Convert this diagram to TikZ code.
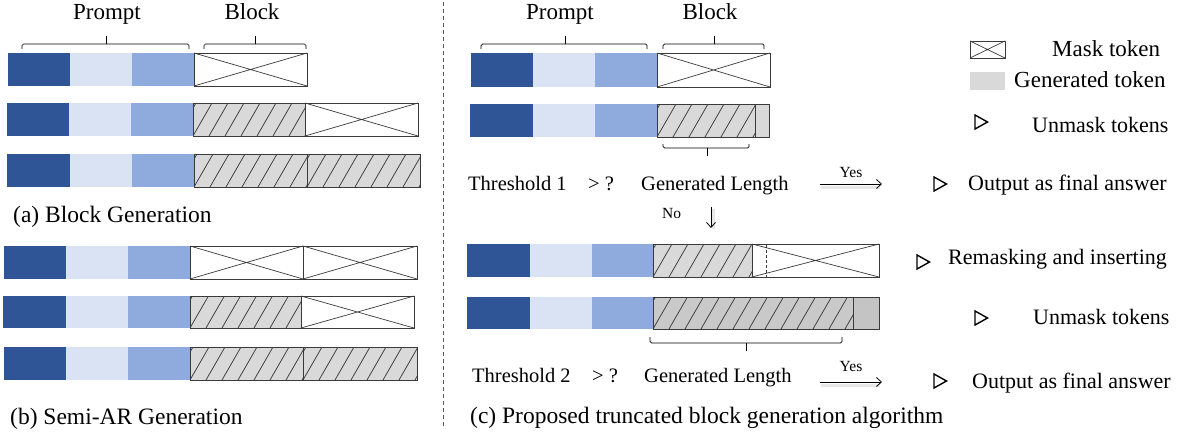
\documentclass[tikz,border=0pt]{standalone}
\usepackage{fontspec}
\setmainfont{Liberation Serif}
\usetikzlibrary{arrows.meta}
\definecolor{dkb}{HTML}{2F5597}
\definecolor{ltb}{HTML}{DAE3F3}
\definecolor{mdb}{HTML}{8FAADC}
\definecolor{gtok}{HTML}{D9D9D9}
\definecolor{gdark}{HTML}{C9C9C9}
\definecolor{gend}{HTML}{C4C4C4}
\definecolor{edgec}{HTML}{3A3A3A}
\definecolor{sepc}{HTML}{595959}
\newcommand\prow[6]{%
  \fill[dkb] (#1,#5) rectangle (#2,#6);
  \fill[ltb] (#2,#5) rectangle (#3,#6);
  \fill[mdb] (#3,#5) rectangle (#4,#6);}
\newcommand\gbx[5]{%
  \fill[#5] (#1,#2) rectangle (#3,#4);
  \begin{scope}
    \clip (#1,#2) rectangle (#3,#4);
    \foreach \k in {-2,...,14}{\draw[hatchl] (#1+\k*16,#4) -- ++(19,-33);}
  \end{scope}
  \draw[boxedge] (#1,#2) rectangle (#3,#4);}
\newcommand\mskbx[4]{%
  \draw[boxedge,fill=white] (#1,#2) rectangle (#3,#4);
  \draw[crossl] (#1,#2) -- (#3,#4) (#1,#4) -- (#3,#2);}
\newcommand\brc[6]{%
  \draw[bracel,rounded corners=1.5pt] (#1,#5) -- (#1,#4) -- (#2,#4) -- (#2,#5);
  \draw[bracel] (#3,#4) -- (#3,#6);}
\tikzset{
  boxedge/.style={draw=edgec,line width=0.9pt},
  crossl/.style={draw=edgec,line width=0.7pt},
  hatchl/.style={draw=edgec,line width=0.75pt},
  bracel/.style={draw=black,line width=0.7pt},
  big/.style={font=\fontsize{23}{27}\selectfont,inner sep=0pt},
  captxt/.style={font=\fontsize{23.5}{27}\selectfont,inner sep=0pt},
  mid/.style={font=\fontsize{22}{26}\selectfont,inner sep=0pt},
  thr/.style={font=\fontsize{20.5}{24}\selectfont,inner sep=0pt},
  small/.style={font=\fontsize{15.5}{18}\selectfont,inner sep=0pt},
  arr/.style={draw=black,line width=0.8pt,-{Straight Barb[length=5pt,width=9pt]}},
  arrsh/.style={draw=black!9,line width=3pt},
  tri/.style={draw=black,line width=1.4pt,line join=miter},
  vsep/.style={draw=sepc,line width=1pt,dash pattern=on 4pt off 3pt},
}
\begin{document}
\begin{tikzpicture}[x=1pt,y=-1pt]
\fill[white] (0,0) rectangle (1183,436);
\useasboundingbox (0,0) rectangle (1183,436);

% ---------- (a) Block Generation ----------
\node[big,anchor=base] (pa) at (107,20) {Prompt};
\node[big,anchor=base] (ba) at (252,20) {Block};
\brc{22}{189}{106}{44}{49}{36}
\brc{204}{306}{255}{44}{49}{36}
\prow{8}{70}{132}{194}{53}{86}
\mskbx{194}{53}{307}{86}
\prow{7}{69}{131}{193}{103}{136}
\gbx{193}{103}{305}{136}{gtok}
\mskbx{305}{103}{418}{136}
\prow{7}{70}{132}{194}{154}{187}
\gbx{194}{154}{307}{187}{gtok}
\gbx{307}{154}{420}{187}{gtok}
\node[captxt,anchor=base west] (capa) at (13,222) {(a) Block Generation};

% ---------- (b) Semi-AR Generation ----------
\prow{4}{66}{128}{190}{246}{279}
\mskbx{190}{246}{303}{279}
\mskbx{303}{246}{417}{279}
\prow{3}{66}{128}{190}{296}{328}
\gbx{190}{296}{301}{328}{gtok}
\mskbx{301}{296}{414}{328}
\prow{4}{66}{128}{190}{347}{380}
\gbx{190}{347}{303}{380}{gtok}
\gbx{303}{347}{417}{380}{gtok}
\node[captxt,anchor=base west] (capb) at (10,424) {(b) Semi-AR Generation};

% separator
\coordinate (septop) at (443,2);
\coordinate (sepbot) at (443,428);
\draw[vsep] (septop) -- (sepbot);

% ---------- (c) Proposed ----------
\node[big,anchor=base] (pc) at (560,20) {Prompt};
\node[big,anchor=base] (bc) at (710,20) {Block};
\brc{481}{647}{565}{44}{49}{36}
\brc{663}{764}{714}{44}{49}{36}
\prow{471}{533}{595}{657}{53}{87}
\mskbx{657}{53}{770}{87}
\prow{470}{533}{595}{657}{104}{137}
\gbx{657}{104}{755}{137}{gtok}
\draw[boxedge,fill=gtok] (755,104) rectangle (769,137);
\brc{663}{749}{707}{148}{144}{156}

\node[thr,anchor=base west] (t1) at (468,190) {Threshold 1};
\node[thr,anchor=base west] (q1) at (588,190) {> ?};
\node[thr,anchor=base west] (g1) at (641,190) {Generated Length};
\coordinate (y1s) at (820,184);
\coordinate (y1e) at (882,184);
\draw[arrsh] ([shift={(1,3.5)}]y1s) -- ([shift={(-2,3.5)}]y1e);
\draw[arr] (y1s) -- (y1e);
\node[small,anchor=base] (yes1) at (851,177) {Yes};
\node[small,anchor=base west] (no) at (662,218) {No};
\coordinate (n1s) at (711,207);
\coordinate (n1e) at (711,228);
\draw[arrsh] ([shift={(2,2)}]n1s) -- ([shift={(2,1)}]n1e);
\draw[arr] (n1s) -- (n1e);

\prow{467}{530}{592}{653}{244}{277}
\gbx{653}{244}{752}{277}{gtok}
\mskbx{752}{244}{879}{277}
\draw[edgec,line width=0.7pt,dash pattern=on 3pt off 2pt] (766,245) -- (766,277);
\prow{467}{530}{592}{653}{297}{329}
\gbx{653}{297}{853}{329}{gdark}
\draw[boxedge,fill=gend] (853,297) rectangle (879,329);
\brc{650}{842}{746}{343}{337}{351}

\node[thr,anchor=base west] (t2) at (472,382) {Threshold 2};
\node[thr,anchor=base west] (q2) at (592,382) {> ?};
\node[thr,anchor=base west] (g2) at (644,382) {Generated Length};
\coordinate (y2s) at (820,382);
\coordinate (y2e) at (882,382);
\draw[arrsh] ([shift={(1,3.5)}]y2s) -- ([shift={(-2,3.5)}]y2e);
\draw[arr] (y2s) -- (y2e);
\node[small,anchor=base] (yes2) at (851,371) {Yes};
\node[captxt,anchor=base west] (capc) at (470,423) {(c) Proposed truncated block generation algorithm};

% ---------- legend / right column ----------
\mskbx{970}{41}{1005}{58}
\fill[gtok] (970,72) rectangle (1005,90);
\node[big,anchor=base west] (lmask) at (1052,57) {Mask token};
\node[big,anchor=base west] (lgen) at (1014,88) {Generated token};

\coordinate (tr1) at (981,122);
\coordinate (tr2) at (940,184);
\coordinate (tr3) at (923,262);
\coordinate (tr4) at (981,318);
\coordinate (tr5) at (940,381);
\foreach \t in {tr1,tr2,tr3,tr4,tr5}{
  \draw[tri,shift={(\t)}] (-6,-7) -- (6.5,0) -- (-6,7) -- cycle;}
\node[mid,anchor=base west] (u1) at (1032,132) {Unmask tokens};
\node[mid,anchor=base west] (o1) at (968,190) {Output as final answer};
\node[mid,anchor=base west] (r1) at (948,264) {Remasking and inserting};
\node[mid,anchor=base west] (u2) at (1033,324) {Unmask tokens};
\node[mid,anchor=base west] (o2) at (972,388) {Output as final answer};
\end{tikzpicture}
\end{document}
